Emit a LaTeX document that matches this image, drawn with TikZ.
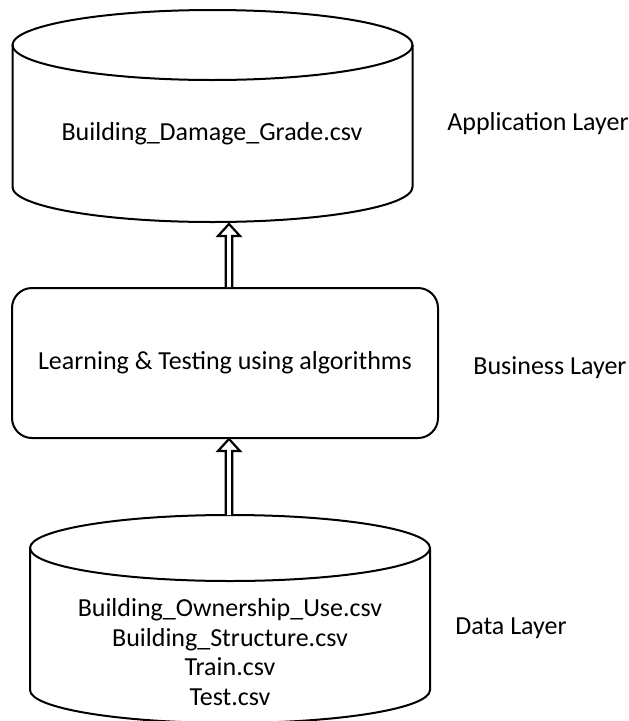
\documentclass[tikz,border=0pt]{standalone}
\usepackage{fontspec}
\setmainfont{Carlito}
\usetikzlibrary{arrows.meta,positioning,calc}

% hollow block arrow from #1 (base) up to #2 (tip)
\newcommand{\blockarrow}[2]{%
  \draw[arrline] ($(#1)+(-3.2,0)$) -- ($(#2)+(-3.2,12)$) -- ($(#2)+(-11,12)$)
    -- (#2) -- ($(#2)+(11,12)$) -- ($(#2)+(3.2,12)$) -- ($(#1)+(3.2,0)$);}

\begin{document}
\begin{tikzpicture}[x=1pt, y=-1pt,
  db/.style={draw, line width=2pt},
  box/.style={draw, line width=2pt, rounded corners=20pt, minimum width=426pt,
              minimum height=150pt, font=\txt},
  txt/.style={font=\txt, align=center},
  arrline/.style={line width=2.2pt, fill=white}
]
\newcommand{\txt}{\fontsize{26}{29.5}\selectfont}
\useasboundingbox (0,0) rectangle (629,721);

% application layer
\draw[db] (212.5,45) ellipse[x radius=200, y radius=35];
\draw[db] (12.5,45) -- (12.5,187) arc[start angle=180, end angle=0, x radius=200, y radius=35] -- (412.5,45);
\node[txt] (appText) at (212,134) {Building\_Damage\_Grade.csv};
\coordinate (appBot) at (229,224);

% business layer
\node[box] (learn) at (225,363) {Learning \& Testing using algorithms};

% data layer
\draw[db] (230,548) ellipse[x radius=200, y radius=33];
\draw[db] (30,548) -- (30,690) arc[start angle=180, end angle=0, x radius=200, y radius=33] -- (430,548);
\node[txt] (dataText) at (230,652) {Building\_Ownership\_Use.csv\\Building\_Structure.csv\\Train.csv\\Test.csv};
\coordinate (dataTop) at (229,515);

% layer names
\node[txt] (appLayer) at (538,124) {Application Layer};
\node[txt] (busLayer) at (550,368) {Business Layer};
\node[txt] (dataLayer) at (511,628) {Data Layer};

\blockarrow{dataTop}{dataTop |- learn.south}
\blockarrow{learn.north -| appBot}{appBot}

\end{tikzpicture}
\end{document}
